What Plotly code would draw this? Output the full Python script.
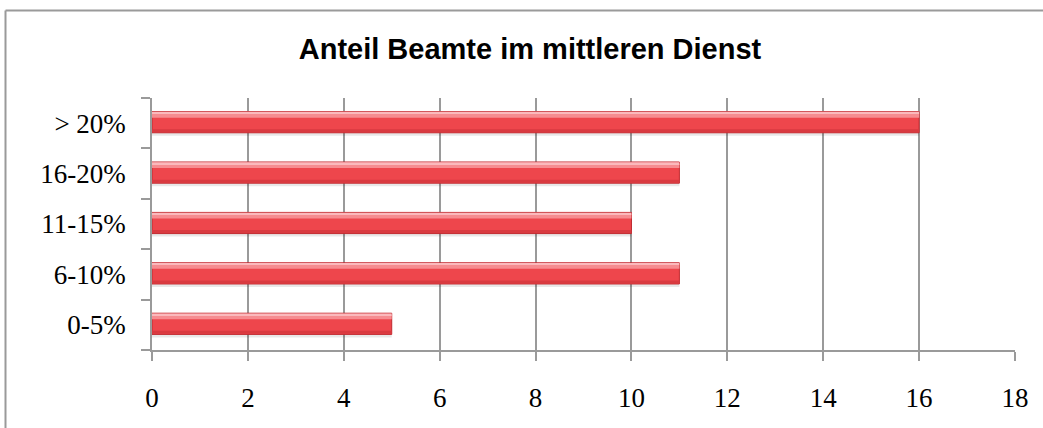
import plotly.graph_objects as go

categories = ["0-5%", "6-10%", "11-15%", "16-20%", "> 20%"]
values = [5, 11, 10, 11, 16]
x_ticks = [0, 2, 4, 6, 8, 10, 12, 14, 16, 18]
title_text = "Anteil Beamte im mittleren Dienst"

W, H = 1043, 428
ML, MR, MT, MB = 152, 28, 98, 78
PW, PH = W - ML - MR, H - MT - MB

fig = go.Figure()
# soft shadow
fig.add_trace(go.Bar(y=categories, x=values, orientation="h", width=0.44, offset=-0.25,
                     marker=dict(color="rgba(0,0,0,0.09)", line=dict(width=0)), hoverinfo="skip"))
# main bar
fig.add_trace(go.Bar(y=categories, x=values, orientation="h", width=0.42, offset=-0.19,
                     marker=dict(color="#ee464c", line=dict(color="#c0292f", width=1))))
# darker bottom band
fig.add_trace(go.Bar(y=categories, x=values, orientation="h", width=0.06, offset=-0.18,
                     marker=dict(color="#d93a40", line=dict(width=0)), hoverinfo="skip"))
# pink highlight band
fig.add_trace(go.Bar(y=categories, x=values, orientation="h", width=0.08, offset=0.11,
                     marker=dict(color="#f68c90", line=dict(width=0)), hoverinfo="skip"))
# light top edge
fig.add_trace(go.Bar(y=categories, x=values, orientation="h", width=0.035, offset=0.19,
                     marker=dict(color="#fbb9bc", line=dict(width=0)), hoverinfo="skip"))

def px_x(p):
    return (p - ML) / PW

def px_y(p):
    return 1 - (p - MT) / PH

fig.update_layout(
    width=W, height=H,
    margin=dict(l=ML, r=MR, t=MT, b=MB),
    paper_bgcolor="white", plot_bgcolor="white",
    barmode="overlay", showlegend=False,
    title=dict(text="<b>" + title_text + "</b>", x=530 / W, xanchor="center",
               y=1 - 49 / H, yanchor="middle", yref="container",
               font=dict(family="Liberation Sans, Arial", size=29, color="black")),
    xaxis=dict(range=[0, 18], tickvals=x_ticks, showgrid=True, gridcolor="#9a9a9a", gridwidth=1.5,
               showline=True, linecolor="#9a9a9a", linewidth=1.5, ticks="outside", ticklen=9,
               tickcolor="#9a9a9a", tickwidth=1.5, zeroline=False,
               tickfont=dict(family="Liberation Serif", size=27, color="black"), ticklabelstandoff=14),
    yaxis=dict(type="category", categoryorder="array", categoryarray=categories, range=[-0.5, 4.5],
               showgrid=False, showline=True, linecolor="#9a9a9a", linewidth=1.5,
               ticks="outside", tickson="boundaries", ticklen=9, tickcolor="#9a9a9a", tickwidth=1.5,
               tickfont=dict(family="Liberation Serif", size=27, color="black"), ticklabelstandoff=19),
    shapes=[dict(type="line", xref="paper", yref="paper", x0=px_x(5.5), x1=px_x(5.5),
                 y0=px_y(428), y1=px_y(10.5), line=dict(color="#9a9a9a", width=2), layer="below"),
            dict(type="line", xref="paper", yref="paper", x0=px_x(5.5), x1=px_x(1043),
                 y0=px_y(10.5), y1=px_y(10.5), line=dict(color="#9a9a9a", width=2), layer="below")],
)

fig.write_html("out.html")
